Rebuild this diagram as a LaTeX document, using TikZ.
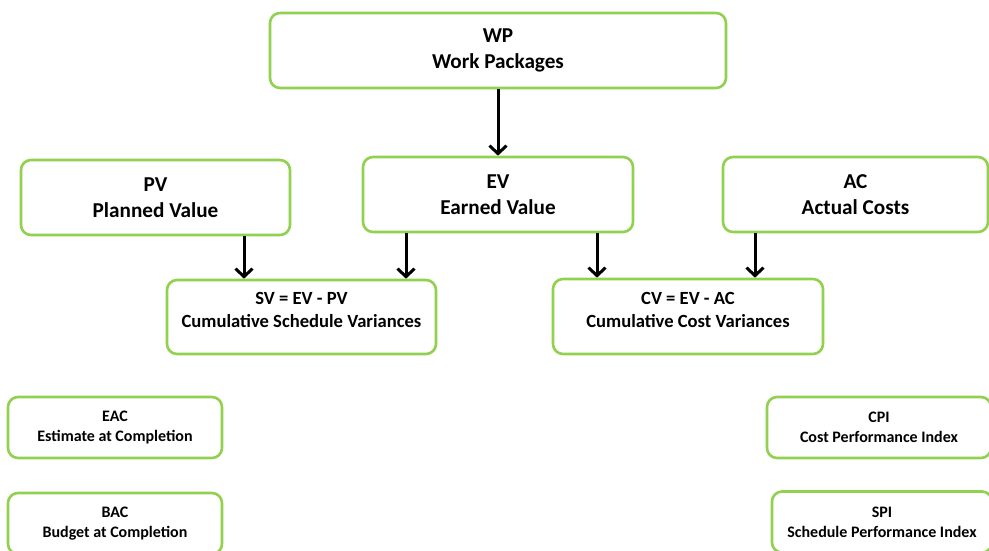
\documentclass[tikz,border=0pt]{standalone}
\usepackage{fontspec}
\setmainfont{Carlito}
\usetikzlibrary{arrows.meta}

\definecolor{boxgreen}{RGB}{146,208,80}

\tikzset{
    box/.style={draw=boxgreen, line width=2.6pt, rounded corners=10pt,
        fill=white, align=center, inner sep=0pt},
    bigbox/.style={box, font=\bfseries\fontsize{21.2}{26}\selectfont},
    midbox/.style={box, font=\bfseries\fontsize{18.6}{23}\selectfont, text depth=14pt},
    smallbox/.style={box, font=\bfseries\fontsize{16}{20}\selectfont},
    arr/.style={line width=3pt, -{Straight Barb[length=8pt, width=17pt]}},
}

\begin{document}
\begin{tikzpicture}[x=1pt, y=-1pt]

    \clip (0,0) rectangle (989,551);

    %% Work packages
    \node[bigbox, minimum width=456pt, minimum height=75pt] (wp) at (498,50.5)
        {WP\\Work Packages};

    %% Values
    \node[bigbox, minimum width=269pt, minimum height=75pt] (pv) at (155.5,197.5)
        {PV\\Planned Value};
    \node[bigbox, minimum width=270pt, minimum height=75pt] (ev) at (498,194.5)
        {EV\\Earned Value};
    \node[bigbox, minimum width=265pt, minimum height=75pt] (ac) at (855.5,194.5)
        {AC\\Actual Costs};

    %% Variances
    \node[midbox, minimum width=269pt, minimum height=74pt] (sv) at (301.5,317)
        {SV = EV - PV\\Cumulative Schedule Variances};
    \node[midbox, minimum width=270pt, minimum height=75pt] (cv) at (688,316.5)
        {CV = EV - AC\\Cumulative Cost Variances};

    %% Forecasts and indices
    \node[smallbox, minimum width=214pt, minimum height=61pt] (eac) at (115,427.5)
        {EAC\\Estimate at Completion};
    \node[smallbox, minimum width=214pt, minimum height=61pt] (bac) at (115,523.5)
        {BAC\\Budget at Completion};
    \node[smallbox, minimum width=224pt, minimum height=61pt] (cpi) at (879,427.5)
        {CPI\\Cost Performance Index};
    \node[smallbox, minimum width=220pt, minimum height=61pt] (spi) at (882,522)
        {SPI\\Schedule Performance Index};

    %% Arrows
    \draw[arr] (wp) -- (ev);
    \draw[arr] ([xshift=88.5pt]pv.south) -- ([xshift=88.5pt]pv.south |- sv.north);
    \draw[arr] ([xshift=-92pt]ev.south) -- ([xshift=-92pt]ev.south |- sv.north);
    \draw[arr] ([xshift=99pt]ev.south) -- ([xshift=99pt]ev.south |- cv.north);
    \draw[arr] ([xshift=-100.5pt]ac.south) -- ([xshift=-100.5pt]ac.south |- cv.north);

\end{tikzpicture}
\end{document}
